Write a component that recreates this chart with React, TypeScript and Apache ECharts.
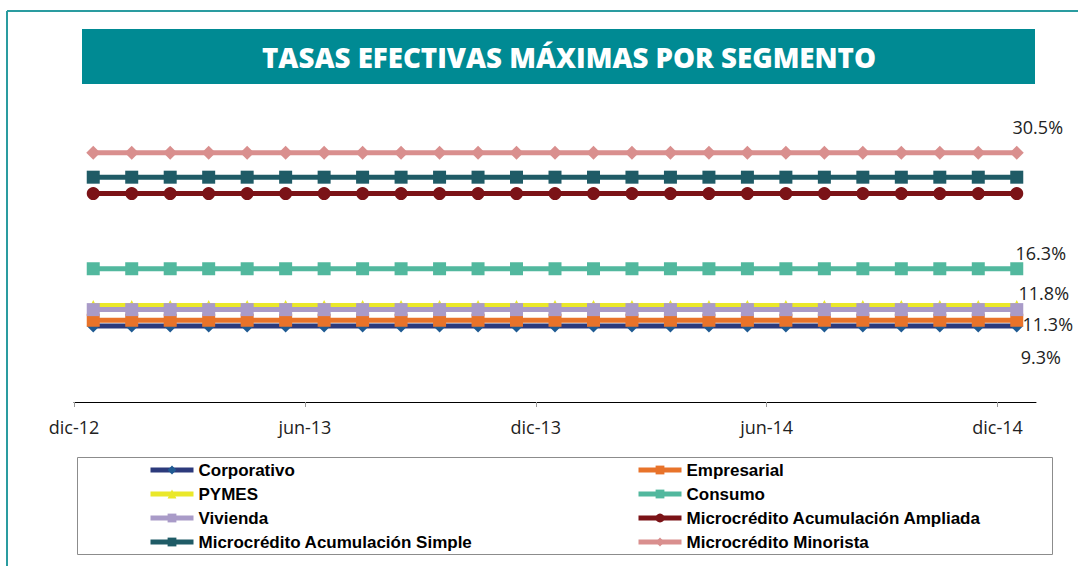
import React, { useEffect, useRef } from "react";
import * as echarts from "echarts";

const months = [
  "dic-12", "ene-13", "feb-13", "mar-13", "abr-13", "may-13", "jun-13", "jul-13", "ago-13", "sep-13", "oct-13", "nov-13",
  "dic-13", "ene-14", "feb-14", "mar-14", "abr-14", "may-14", "jun-14", "jul-14", "ago-14", "sep-14", "oct-14", "nov-14", "dic-14",
];
const tickIdx = [0, 6, 12, 18, 24];

const corporativo = [9.3, 9.3, 9.3, 9.3, 9.3, 9.3, 9.3, 9.3, 9.3, 9.3, 9.3, 9.3, 9.3, 9.3, 9.3, 9.3, 9.3, 9.3, 9.3, 9.3, 9.3, 9.3, 9.3, 9.3, 9.3];
const empresarial = [10.0, 10.0, 10.0, 10.0, 10.0, 10.0, 10.0, 10.0, 10.0, 10.0, 10.0, 10.0, 10.0, 10.0, 10.0, 10.0, 10.0, 10.0, 10.0, 10.0, 10.0, 10.0, 10.0, 10.0, 10.0];
const pymes = [11.8, 11.8, 11.8, 11.8, 11.8, 11.8, 11.8, 11.8, 11.8, 11.8, 11.8, 11.8, 11.8, 11.8, 11.8, 11.8, 11.8, 11.8, 11.8, 11.8, 11.8, 11.8, 11.8, 11.8, 11.8];
const consumo = [16.3, 16.3, 16.3, 16.3, 16.3, 16.3, 16.3, 16.3, 16.3, 16.3, 16.3, 16.3, 16.3, 16.3, 16.3, 16.3, 16.3, 16.3, 16.3, 16.3, 16.3, 16.3, 16.3, 16.3, 16.3];
const vivienda = [11.3, 11.3, 11.3, 11.3, 11.3, 11.3, 11.3, 11.3, 11.3, 11.3, 11.3, 11.3, 11.3, 11.3, 11.3, 11.3, 11.3, 11.3, 11.3, 11.3, 11.3, 11.3, 11.3, 11.3, 11.3];
const ampliada = [25.5, 25.5, 25.5, 25.5, 25.5, 25.5, 25.5, 25.5, 25.5, 25.5, 25.5, 25.5, 25.5, 25.5, 25.5, 25.5, 25.5, 25.5, 25.5, 25.5, 25.5, 25.5, 25.5, 25.5, 25.5];
const simple = [27.5, 27.5, 27.5, 27.5, 27.5, 27.5, 27.5, 27.5, 27.5, 27.5, 27.5, 27.5, 27.5, 27.5, 27.5, 27.5, 27.5, 27.5, 27.5, 27.5, 27.5, 27.5, 27.5, 27.5, 27.5];
const minorista = [30.5, 30.5, 30.5, 30.5, 30.5, 30.5, 30.5, 30.5, 30.5, 30.5, 30.5, 30.5, 30.5, 30.5, 30.5, 30.5, 30.5, 30.5, 30.5, 30.5, 30.5, 30.5, 30.5, 30.5, 30.5];

const TITLE = "TASAS EFECTIVAS MÁXIMAS POR SEGMENTO";

type Def = {
  name: string;
  values: number[];
  line: string;
  marker: string;
  symbol: string;
  size: number;
  labelOffset?: [number, number];
};

const defs: Def[] = [
  { name: "Corporativo", values: corporativo, line: "#2C3A7C", marker: "#1F5A92", symbol: "diamond", size: 13, labelOffset: [24, 31] },
  { name: "Empresarial", values: empresarial, line: "#E8732A", marker: "#E8732A", symbol: "rect", size: 13 },
  { name: "PYMES", values: pymes, line: "#EAE82A", marker: "#EAE82A", symbol: "triangle", size: 11, labelOffset: [27, -13] },
  { name: "Consumo", values: consumo, line: "#52B89E", marker: "#52B89E", symbol: "rect", size: 13, labelOffset: [24, -16] },
  { name: "Vivienda", values: vivienda, line: "#A99BC8", marker: "#A99BC8", symbol: "rect", size: 13, labelOffset: [31, 14] },
  { name: "Microcrédito Acumulación Ampliada", values: ampliada, line: "#7B1317", marker: "#7B1317", symbol: "circle", size: 13 },
  { name: "Microcrédito Acumulación Simple", values: simple, line: "#1F5B66", marker: "#1F5B66", symbol: "rect", size: 13 },
  { name: "Microcrédito Minorista", values: minorista, line: "#D98F8E", marker: "#D98F8E", symbol: "diamond", size: 14, labelOffset: [21, -26] },
];

function measure(text: string, font: string): number {
  const c = document.createElement("canvas").getContext("2d");
  if (!c) return 0;
  c.font = font;
  return c.measureText(text).width;
}

export default function App() {
  const ref = useRef<HTMLDivElement>(null);
  useEffect(() => {
    if (!ref.current) return;
    const chart = echarts.init(ref.current, null, { renderer: "svg" });
    const titleFont = "800 29px 'Open Sans'";
    const w = measure(TITLE, titleFont) || 614;
    const sx = 614 / w;

    const series = defs.map((d) => ({
      name: d.name,
      type: "line",
      symbol: d.symbol,
      symbolSize: d.size,
      lineStyle: { color: d.line, width: 5 },
      itemStyle: { color: d.marker },
      data: d.values.map((v, i) => {
        if (d.labelOffset && i === d.values.length - 1) {
          return {
            value: [i + 0.5, v],
            label: {
              show: true,
              position: "inside",
              offset: d.labelOffset,
              formatter: v.toFixed(1) + "%",
              fontFamily: "'Open Sans'",
              fontSize: 18,
              color: "#222",
            },
          };
        }
        return [i + 0.5, v];
      }),
    }));

    const legendText = {
      fontFamily: "'Liberation Sans', Arial",
      fontWeight: "bold",
      fontSize: 17,
      color: "#000",
      lineHeight: 20,
    };
    const legendBase = {
      orient: "vertical",
      top: 460,
      padding: 0,
      itemWidth: 43,
      itemHeight: 11,
      itemGap: 4,
      lineStyle: { width: 5 },
      textStyle: legendText,
    };

    chart.setOption({
      animation: false,
      grid: { left: 74, right: 42, top: 75, bottom: 164 },
      xAxis: {
        type: "value",
        min: 0,
        max: 25,
        splitLine: { show: false },
        axisLine: { lineStyle: { color: "#000", width: 1 } },
        axisTick: { show: true, length: 5, customValues: tickIdx, lineStyle: { color: "#999" } },
        axisLabel: {
          customValues: tickIdx,
          formatter: (v: number) => months[Math.round(v)] ?? "",
          fontFamily: "'Open Sans'",
          fontSize: 18,
          color: "#222",
          margin: 16,
        },
      },
      yAxis: { type: "value", min: 0, max: 40, show: false },
      legend: [
        { ...legendBase, left: 148, data: [defs[0].name, defs[2].name, defs[4].name, defs[6].name] },
        { ...legendBase, left: 636, data: [defs[1].name, defs[3].name, defs[5].name, defs[7].name] },
      ],
      graphic: [
        { type: "line", shape: { x1: 7, y1: 11, x2: 1078, y2: 11 }, style: { stroke: "#2A9CA0", lineWidth: 2 } },
        { type: "line", shape: { x1: 7, y1: 11, x2: 7, y2: 566 }, style: { stroke: "#2A9CA0", lineWidth: 2 } },
        { type: "rect", shape: { x: 82, y: 29, width: 953, height: 55 }, style: { fill: "#008A93" } },
        {
          type: "text",
          x: 569,
          y: 57,
          scaleX: sx,
          style: {
            text: TITLE,
            x: 0,
            y: 0,
            align: "center",
            verticalAlign: "middle",
            font: titleFont,
            fill: "#fff",
          },
        },
        {
          type: "rect",
          shape: { x: 77.5, y: 457.5, width: 975, height: 97 },
          style: { fill: "none", stroke: "#8C8C8C", lineWidth: 1 },
          z: -1,
        },
      ],
      series,
    });
    return () => chart.dispose();
  }, []);
  return <div ref={ref} style={{ width: 1078, height: 566, position: "absolute", left: 0, top: 0 }} />;
}
